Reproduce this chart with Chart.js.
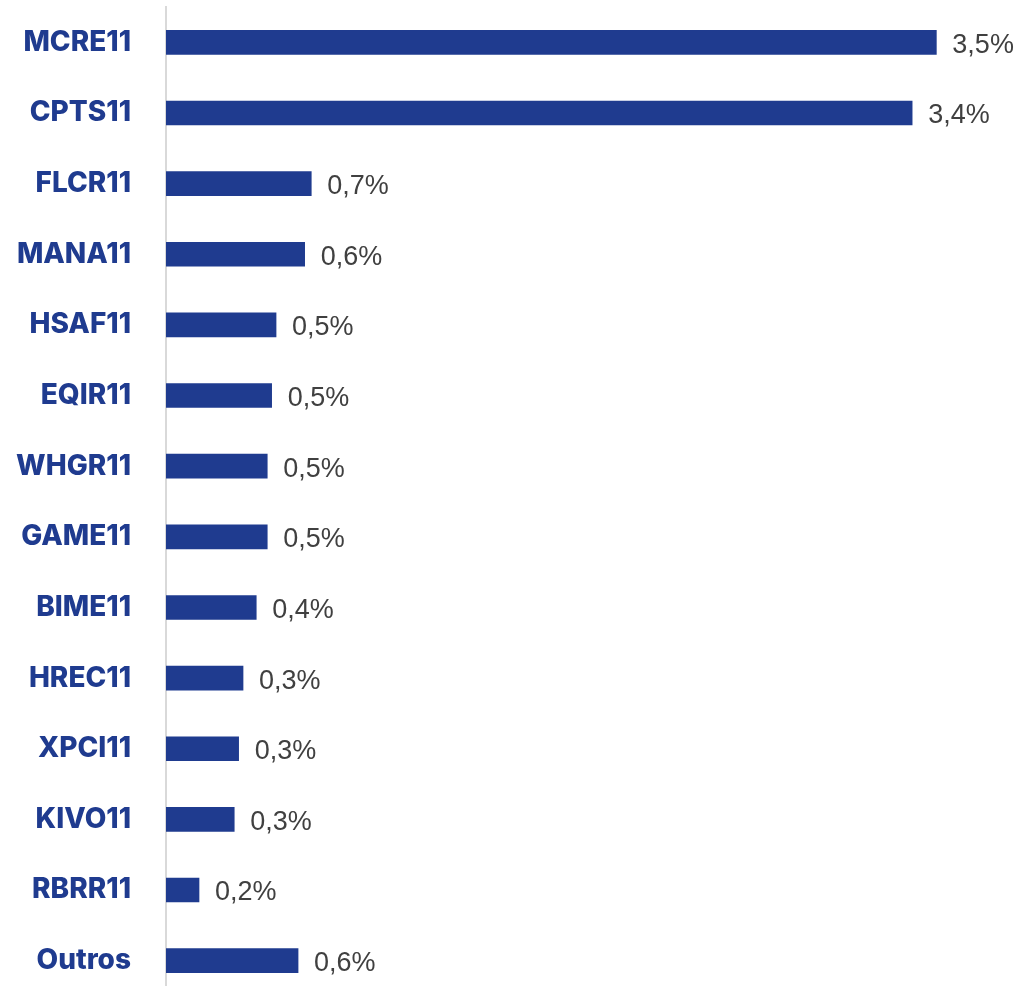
<!DOCTYPE html>
<html>
<head>
<meta charset="utf-8">
<script src="https://cdn.jsdelivr.net/npm/chart.js@4/dist/chart.umd.min.js"></script>
<style>
  html, body { margin: 0; padding: 0; background: #ffffff; overflow: hidden; }
  #wrap { position: relative; width: 1031px; height: 1000px; }
</style>
</head>
<body>
<div id="wrap"><canvas id="c" width="1031" height="1000"></canvas></div>
<script>
const categories = ["MCRE11","CPTS11","FLCR11","MANA11","HSAF11","EQIR11","WHGR11","GAME11","BIME11","HREC11","XPCI11","KIVO11","RBRR11","Outros"];
const values = [3.50, 3.39, 0.66, 0.63, 0.50, 0.48, 0.46, 0.46, 0.41, 0.35, 0.33, 0.31, 0.15, 0.60];
const valueLabels = ["3,5%","3,4%","0,7%","0,6%","0,5%","0,5%","0,5%","0,5%","0,4%","0,3%","0,3%","0,3%","0,2%","0,6%"];

const barColor = "#1f3b8f";

const valueLabelPlugin = {
  id: "valueLabels",
  afterDatasetsDraw(chart) {
    const ctx = chart.ctx;
    const meta = chart.getDatasetMeta(0);
    ctx.save();
    ctx.font = "27px 'Liberation Sans', Arial, sans-serif";
    ctx.fillStyle = "#404040";
    ctx.textAlign = "left";
    ctx.textBaseline = "middle";
    meta.data.forEach((bar, i) => {
      ctx.fillText(valueLabels[i], bar.x + 16, bar.y + 3);
    });
    ctx.restore();
  }
};

new Chart(document.getElementById("c"), {
  type: "bar",
  data: {
    labels: categories,
    datasets: [{
      data: values,
      backgroundColor: barColor,
      borderWidth: 0,
      barThickness: 24
    }]
  },
  options: {
    indexAxis: "y",
    responsive: false,
    animation: false,
    layout: { padding: { top: 7, bottom: 4, left: 0, right: 0 } },
    plugins: { legend: { display: false }, tooltip: { enabled: false } },
    scales: {
      x: { display: false, min: 0, max: 3.93 },
      y: {
        afterFit(scale) { scale.width = 166; scale.paddingTop = 0; scale.paddingBottom = 0; },
        grid: { display: false, drawTicks: false },
        border: { display: true, color: "#d9d9d9", width: 2 },
        ticks: {
          padding: 35,
          color: barColor,
          font: { family: "Inter", weight: "800", size: 28 }
        }
      }
    }
  },
  plugins: [valueLabelPlugin]
});
</script>
</body>
</html>
